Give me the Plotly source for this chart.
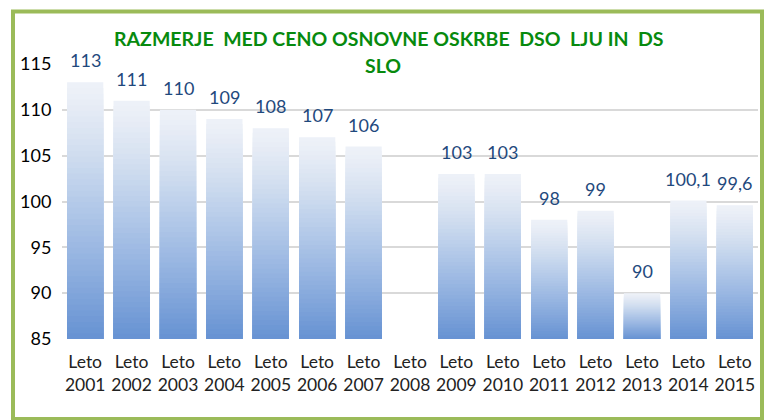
import plotly.graph_objects as go

years = ["2001", "2002", "2003", "2004", "2005", "2006", "2007", "2008",
         "2009", "2010", "2011", "2012", "2013", "2014", "2015"]
values = [113, 111, 110, 109, 108, 107, 106, None, 103, 103, 98, 99, 90, 100.1, 99.6]
value_labels = ["113", "111", "110", "109", "108", "107", "106", "",
                "103", "103", "98", "99", "90", "100,1", "99,6"]
categories = ["Leto<br>" + y for y in years]
y_min, y_max = 85, 115
y_ticks = [85, 90, 95, 100, 105, 110, 115]
title_line1 = "RAZMERJE  MED CENO OSNOVNE OSKRBE  DSO  LJU IN  DS"
title_line2 = "SLO"

FONT = "Lato, Calibri, Carlito, sans-serif"

# gradient stops (t = 0 top of bar, 1 bottom)
stops = [(0.0, (238, 242, 248)), (0.08, (232, 237, 246)), (0.25, (212, 224, 240)),
         (0.5, (176, 199, 232)), (0.75, (140, 173, 222)), (1.0, (102, 146, 210))]

def grad(t):
    for (t0, c0), (t1, c1) in zip(stops[:-1], stops[1:]):
        if t <= t1:
            a = (t - t0) / (t1 - t0)
            return "rgb(%d,%d,%d)" % tuple(round(c0[i] + a * (c1[i] - c0[i])) for i in range(3))
    return "rgb(%d,%d,%d)" % stops[-1][1]

N = 45
fig = go.Figure()
for k in range(N):
    frac = 1 - k / N
    ys = [None if v is None else y_min + (v - y_min) * frac for v in values]
    fig.add_trace(go.Bar(
        x=categories, y=ys, width=0.78,
        marker=dict(color=grad((k + 0.5) / N), line=dict(width=0)),
        hoverinfo="skip", showlegend=False,
    ))

for c, v, t in zip(categories, values, value_labels):
    if v is None:
        continue
    fig.add_annotation(x=c, y=v, text=t, showarrow=False, yanchor="bottom", yshift=9,
                       font=dict(family=FONT, size=18, color="#1F497D"))

fig.add_annotation(xref="paper", yref="paper", x=(388 - 62) / 696, y=(339 - 38) / 275,
                   xanchor="center", yanchor="middle",
                   text="<b>" + title_line1 + "</b>", showarrow=False,
                   font=dict(family=FONT, size=19.5, color="#078A0E"))
fig.add_annotation(xref="paper", yref="paper", x=(383 - 62) / 696, y=(339 - 65) / 275,
                   xanchor="center", yanchor="middle",
                   text="<b>" + title_line2 + "</b>", showarrow=False, bgcolor="white",
                   font=dict(family=FONT, size=19.5, color="#078A0E"))

fig.add_shape(type="rect", xref="paper", yref="paper",
              x0=(13 - 62) / 696, x1=(762 - 62) / 696,
              y0=(339 - 419) / 275, y1=(339 - 11.5) / 275,
              line=dict(color="#9BBB59", width=4), fillcolor="rgba(0,0,0,0)")

fig.update_layout(
    width=764, height=420,
    margin=dict(l=62, r=6, t=64, b=81, autoexpand=False),
    paper_bgcolor="white", plot_bgcolor="white",
    barmode="overlay",
    font=dict(family=FONT, size=17, color="#000000"),
    xaxis=dict(showgrid=False, showline=False, ticks="outside", ticklen=7,
               tickcolor="rgba(0,0,0,0)", tickfont=dict(size=17.5, color="#222222")),
    yaxis=dict(range=[y_min, y_max], tickvals=y_ticks, showgrid=True,
               gridcolor="#D9D9D9", gridwidth=1.5, zeroline=False, showline=False,
               ticks="outside", ticklen=6, tickcolor="rgba(0,0,0,0)",
               tickfont=dict(size=18, color="#000000")),
)

fig.write_html("out.html", config={"displayModeBar": False},
               post_script="document.body.style.margin='0';document.body.style.overflow='hidden';")
